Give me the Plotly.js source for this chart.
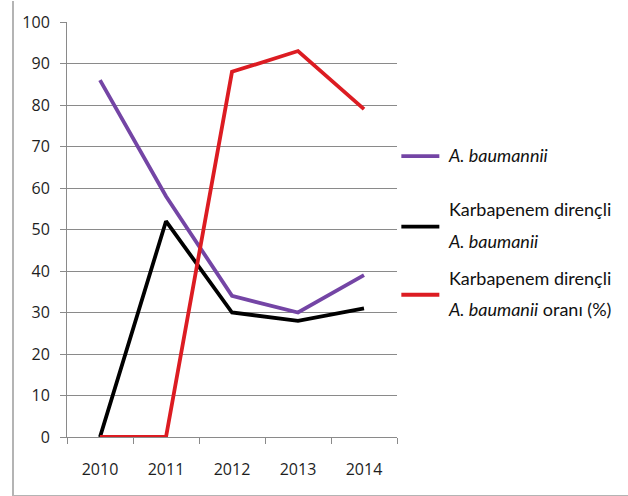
<!DOCTYPE html>
<html>
<head>
<meta charset="utf-8">
<script src="https://cdn.plot.ly/plotly-3.0.1.min.js"></script>
<style>
  html, body { margin: 0; padding: 0; background: #fff; }
  #wrap { position: relative; width: 628px; height: 496px; overflow: hidden; }
  #chart { position: absolute; left: 0; top: 0; width: 628px; height: 496px; }
  #frame {
    position: absolute; left: 12px; top: 1px; width: 640px; height: 496px;
    border-left: 2px solid #b4b4b4; border-bottom: 2px solid #b4b4b4;
    box-sizing: border-box; pointer-events: none;
  }
</style>
</head>
<body>
<div id="wrap">
  <div id="chart"></div>
  <div id="frame"></div>
</div>
<script>
// Years on the category axis
const years = ['2010', '2011', '2012', '2013', '2014'];

// A. baumannii isolates
const baumannii = [86, 58, 34, 30, 39];
// Carbapenem-resistant A. baumannii isolates
const resistant = [0, 52, 30, 28, 31];
// Share of carbapenem-resistant isolates (%)
const resistantPct = [0, 0, 88, 93, 79];

// Series labels (drawn smaller than the legend font so the two-line
// entries get a roomier line spacing)
const nb = '\u00A0';
const span = shift => '<span style="font-size:18px;baseline-shift:' + shift + 'px">' + nb;
const nameBaumannii = span(3) + '<i>A. baumannii</i></span>';
const nameResistant = span(4) + 'Karbapenem dirençli</span><br>' +
                      span(4) + '<i>A. baumanii</i></span>';
const namePct = span(4) + 'Karbapenem dirençli</span><br>' +
                span(4) + '<i>A. baumanii</i> oranı (%)</span>';

const textFont = 'Lato, "Open Sans", sans-serif';
const tickFontFamily = '"Open Sans", Lato, sans-serif';

const traces = [
  { x: years, y: baumannii, name: nameBaumannii, mode: 'lines',
    line: { color: '#7445a5', width: 3.8 }, legend: 'legend' },
  { x: years, y: resistant, name: nameResistant, mode: 'lines',
    line: { color: '#000000', width: 3.8 }, legend: 'legend2' },
  { x: years, y: resistantPct, name: namePct, mode: 'lines',
    line: { color: '#dc1c22', width: 3.8 }, legend: 'legend3' }
];

const legendBase = {
  xanchor: 'left', yanchor: 'middle', x: 0.995,
  bgcolor: 'rgba(0,0,0,0)', borderwidth: 0,
  font: { family: textFont, size: 24, color: '#111' },
  valign: 'middle', itemwidth: 38,
  itemclick: false, itemdoubleclick: false
};

const tickFont = { family: tickFontFamily, size: 16, color: '#1e1e1e' };

const layout = {
  width: 628, height: 496,
  margin: { l: 67, r: 230, t: 22, b: 59, pad: 0 },
  paper_bgcolor: '#ffffff', plot_bgcolor: '#ffffff',
  font: { family: textFont, size: 16, color: '#222' },
  showlegend: true,
  legend: Object.assign({}, legendBase, { y: 0.676 }),
  legend2: Object.assign({}, legendBase, { y: 0.506 }),
  legend3: Object.assign({}, legendBase, { y: 0.342 }),
  xaxis: {
    type: 'category', range: [-0.5, 4.5],
    tickson: 'boundaries', ticks: 'outside', ticklen: 6, tickwidth: 1, tickcolor: '#8a8a8a',
    showline: true, linecolor: '#8a8a8a', linewidth: 1,
    showgrid: false, zeroline: false,
    ticklabelstandoff: 18,
    tickfont: tickFont
  },
  yaxis: {
    range: [0, 100], dtick: 10, tick0: 0,
    ticks: 'outside', ticklen: 6, tickwidth: 1, tickcolor: '#8a8a8a',
    showline: true, linecolor: '#8a8a8a', linewidth: 1,
    showgrid: true, gridcolor: '#8a8a8a', gridwidth: 1,
    zeroline: false,
    ticklabelstandoff: 7,
    tickfont: tickFont
  }
};

Plotly.newPlot('chart', traces, layout, { displayModeBar: false, staticPlot: true });
</script>
</body>
</html>
